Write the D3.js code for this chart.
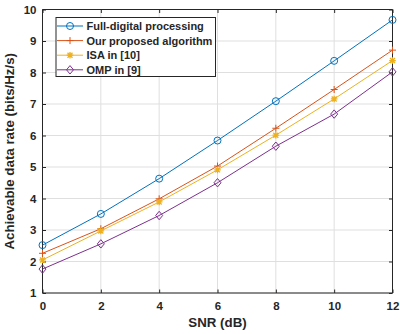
<!DOCTYPE html>
<html>
<head>
<meta charset="utf-8">
<script src="https://cdn.jsdelivr.net/npm/d3@7"></script>
<style>
  body { margin: 0; background: #fff; }
  text { font-family: "Liberation Sans", Arial, sans-serif; font-weight: bold; fill: #262626; }
</style>
</head>
<body>
<svg class="mainSvg"></svg>
<script>
(function () {
  // ===========================================================================
  //     data area
  // ===========================================================================
  const snr = [0, 2, 4, 6, 8, 10, 12];
  const fullDigital = [2.52, 3.51, 4.63, 5.84, 7.09, 8.37, 9.67];
  const proposed = [2.26, 3.04, 3.99, 5.03, 6.23, 7.46, 8.71];
  const isa = [2.05, 2.97, 3.89, 4.91, 6.01, 7.16, 8.38];
  const omp = [1.76, 2.56, 3.46, 4.5, 5.66, 6.68, 8.02];
  const seriesNames = ['Full-digital processing', 'Our proposed algorithm', 'ISA in [10]', 'OMP in [9]'];
  const xTicks = [0, 2, 4, 6, 8, 10, 12];
  const yTicks = [1, 2, 3, 4, 5, 6, 7, 8, 9, 10];

  const series = [
    { name: seriesNames[0], values: fullDigital, color: '#0072BD', marker: 'circle' },
    { name: seriesNames[1], values: proposed, color: '#D95319', marker: 'plus' },
    { name: seriesNames[2], values: isa, color: '#EDB120', marker: 'star' },
    { name: seriesNames[3], values: omp, color: '#7E2F8E', marker: 'diamond' },
  ];

  const width = 400;
  const height = 334;
  const left = 42.5;
  const right = 392.5;
  const top = 9.5;
  const bottom = 293;
  const axisColor = '#262626';

  const svg = d3.select('.mainSvg')
    .attr('width', width)
    .attr('height', height);

  const x = d3.scaleLinear().domain([0, 12]).range([left, right]);
  const y = d3.scaleLinear().domain([1, 10]).range([bottom, top]);

  // grid
  svg.append('g').selectAll('line')
    .data(xTicks)
    .enter()
    .append('line')
    .attr('x1', d => x(d)).attr('x2', d => x(d))
    .attr('y1', top).attr('y2', bottom)
    .attr('stroke', '#dfdfdf').attr('stroke-width', 1);
  svg.append('g').selectAll('line')
    .data(yTicks)
    .enter()
    .append('line')
    .attr('x1', left).attr('x2', right)
    .attr('y1', d => y(d)).attr('y2', d => y(d))
    .attr('stroke', '#dfdfdf').attr('stroke-width', 1);

  // axes (ticks inward, box on)
  const tickLen = 3.5;
  const xAxisB = d3.axisBottom(x).tickValues(xTicks).tickSize(-tickLen).tickPadding(9);
  const xAxisT = d3.axisTop(x).tickValues(xTicks).tickSize(-tickLen).tickFormat('');
  const yAxisL = d3.axisLeft(y).tickValues(yTicks).tickSize(-tickLen).tickPadding(6);
  const yAxisR = d3.axisRight(y).tickValues(yTicks).tickSize(-tickLen).tickFormat('');

  function styleAxis(g) {
    g.select('.domain').attr('stroke', axisColor);
    g.selectAll('.tick line').attr('stroke', axisColor);
    g.selectAll('.tick text')
      .attr('fill', axisColor)
      .style('font-size', '11.5px')
      .style('font-family', '"Liberation Sans", Arial, sans-serif')
      .style('font-weight', 'bold');
  }

  svg.append('g').attr('transform', `translate(0,${bottom})`).call(xAxisB).call(styleAxis)
    .select('.domain').attr('d', `M${left},0H${right}`);
  svg.append('g').attr('transform', `translate(0,${top})`).call(xAxisT).call(styleAxis)
    .select('.domain').attr('d', `M${left},0H${right}`);
  svg.append('g').attr('transform', `translate(${left},0)`).call(yAxisL).call(styleAxis)
    .select('.domain').attr('d', `M0,${top}V${bottom}`);
  svg.append('g').attr('transform', `translate(${right},0)`).call(yAxisR).call(styleAxis)
    .select('.domain').attr('d', `M0,${top}V${bottom}`);

  // axis labels
  svg.append('text')
    .attr('x', (left + right) / 2)
    .attr('y', 327)
    .attr('text-anchor', 'middle')
    .style('font-size', '13.3px')
    .text('SNR (dB)');
  svg.append('text')
    .attr('transform', `translate(14,${(top + bottom) / 2}) rotate(-90)`)
    .attr('text-anchor', 'middle')
    .style('font-size', '13.3px')
    .text('Achievable data rate (bits/Hz/s)');

  // markers
  function drawMarker(g, type, cx, cy, color) {
    if (type === 'circle') {
      g.append('circle').attr('cx', cx).attr('cy', cy).attr('r', 3.5)
        .attr('fill', 'none').attr('stroke', color).attr('stroke-width', 1);
    } else if (type === 'plus') {
      g.append('path').attr('d', `M${cx - 3.5},${cy}H${cx + 3.5}M${cx},${cy - 3.5}V${cy + 3.5}`)
        .attr('stroke', color).attr('stroke-width', 1);
    } else if (type === 'star') {
      g.append('path')
        .attr('d', `M${cx - 3.3},${cy}H${cx + 3.3}M${cx},${cy - 3.3}V${cy + 3.3}M${cx - 2.5},${cy - 2.5}L${cx + 2.5},${cy + 2.5}M${cx - 2.5},${cy + 2.5}L${cx + 2.5},${cy - 2.5}`)
        .attr('stroke', color).attr('stroke-width', 1.3);
    } else if (type === 'diamond') {
      g.append('path').attr('d', `M${cx},${cy - 4.2}L${cx + 3.5},${cy}L${cx},${cy + 4.2}L${cx - 3.5},${cy}Z`)
        .attr('fill', 'none').attr('stroke', color).attr('stroke-width', 1);
    }
  }

  const line = d3.line().x(d => x(d[0])).y(d => y(d[1]));

  series.forEach(function (s) {
    const pts = snr.map((v, i) => [v, s.values[i]]);
    const g = svg.append('g');
    g.append('path')
      .attr('d', line(pts))
      .attr('fill', 'none')
      .attr('stroke', s.color)
      .attr('stroke-width', 1);
    pts.forEach(p => drawMarker(g, s.marker, x(p[0]), y(p[1]), s.color));
  });

  // legend
  const lg = svg.append('g');
  lg.append('rect')
    .attr('x', 56).attr('y', 17.5)
    .attr('width', 159.5).attr('height', 59)
    .attr('fill', '#fff').attr('stroke', axisColor).attr('stroke-width', 1);
  series.forEach(function (s, i) {
    const ly = 26 + i * 14.6;
    lg.append('line')
      .attr('x1', 57).attr('x2', 83)
      .attr('y1', ly).attr('y2', ly)
      .attr('stroke', s.color).attr('stroke-width', 1);
    drawMarker(lg, s.marker, 70, ly, s.color);
    lg.append('text')
      .attr('x', 86.5).attr('y', ly + 4)
      .style('font-size', '11px')
      .text(s.name);
  });
})();
</script>
</body>
</html>
